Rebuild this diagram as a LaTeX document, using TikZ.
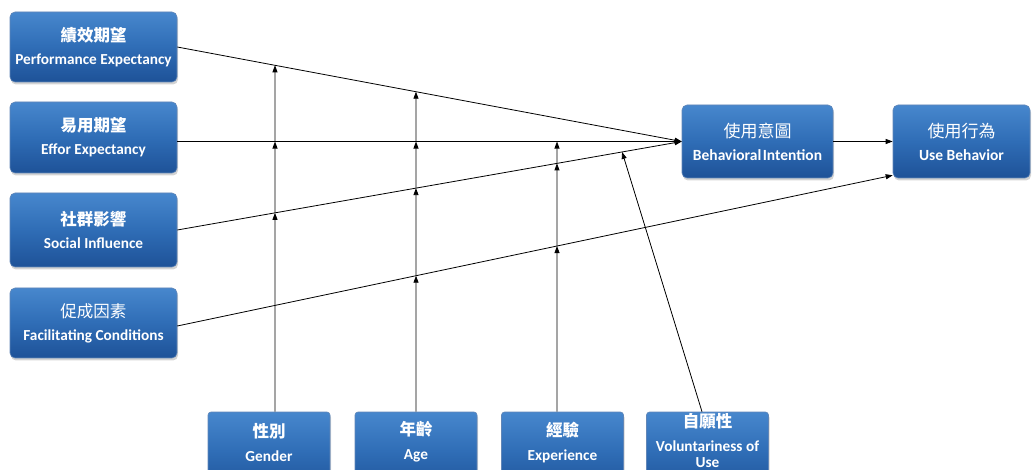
\documentclass[tikz,border=0pt]{standalone}
\usepackage{fontspec}
\setmainfont{Carlito}
\newfontfamily\cjk{Noto Sans CJK TC}
\usetikzlibrary{arrows.meta,shadows,calc}
\definecolor{bA}{HTML}{4787CD}
\definecolor{bB}{HTML}{2F6DB6}
\definecolor{bC}{HTML}{1E5298}
\tikzset{
  box/.style={rounded corners=5pt, top color=bA, bottom color=bC, middle color=bB,
    draw=bC!70!white, line width=0.6pt,
    drop shadow={shadow xshift=1pt, shadow yshift=-2.5pt, opacity=0.35},
    text=white, align=center, inner sep=0pt,
    font=\bfseries\fontsize{15.3}{23}\selectfont},
  lbox/.style={box, minimum width=167pt},
  rbox/.style={box, minimum height=73pt, font=\bfseries\fontsize{15.5}{23}\selectfont},
  bbox/.style={box, rounded corners=3pt, minimum width=122pt, minimum height=80pt},
  btext/.style={text=white, align=center, inner sep=0pt, font=\bfseries\fontsize{15.3}{24}\selectfont},
  conn/.style={line width=0.8pt, draw=black},
  tip/.style={-{Triangle[length=7pt,width=5pt]}},
}
\newcommand{\zhb}[1]{{\cjk\bfseries\fontsize{16.5}{23}\selectfont #1}}
\newcommand{\zhm}[1]{{\cjk\mdseries\fontsize{16.5}{23}\selectfont #1}}
\newcommand{\zhr}[1]{{\cjk\mdseries\fontsize{17}{23}\selectfont #1}}
\begin{document}
\begin{tikzpicture}[x=1pt,y=-1pt]
\useasboundingbox (0,0) rectangle (1034,470);

% left boxes
\node[lbox, minimum height=70pt] (PE) at (93.5,47) {\zhb{績效期望}\\Performance Expectancy};
\node[lbox, minimum height=71pt] (EE) at (93.5,137.5) {\zhb{易用期望}\\Effor Expectancy};
\node[lbox, minimum height=74pt] (SI) at (93.5,230) {\zhb{社群影響}\\Social Influence};
\node[lbox, minimum height=70pt] (FC) at (93.5,323) {\zhm{促成因素}\\Facilitating Conditions};

% right boxes
\node[rbox, minimum width=151pt] (BI) at (757.5,141.5) {\zhr{使用意圖}\\Behavioral\hspace{1.5pt}Intention};
\node[rbox, minimum width=137pt] (UB) at (961.5,141.5) {\zhr{使用行為}\\Use Behavior};

% bottom boxes
\node[bbox] (G) at (269,452) {};
\node[bbox] (A) at (416,452) {};
\node[bbox] (E) at (562.5,452) {};
\node[bbox] (V) at (707.5,452) {};
\node[btext] (Gt) at ($(G.north)+(0,30.5)$) {\zhb{性別}\\Gender};
\node[btext] (At) at ($(A.north)+(0,30.5)$) {\zhb{年齡}\\Age};
\node[btext] (Et) at ($(E.north)+(0,30.5)$) {\zhb{經驗}\\Experience};
\node[btext, font=\bfseries\fontsize{15.3}{16}\selectfont] (Vt) at ($(V.north)+(0,29)$) {\zhb{自願性}\\[8pt]Voluntariness of\\Use};

% main connectors
\coordinate (peS) at (PE.east);
\coordinate (eeS) at (EE.east |- BI.west);
\coordinate (siS) at (SI.east);
\coordinate (fcS) at ($(FC.east)+(0,3)$);
\coordinate (biW) at (BI.west);
\coordinate (ubE) at ($(UB.south west)+(0,-3)$);
\draw[conn,tip] (peS) -- (biW);
\draw[conn,tip] (eeS) -- (biW);
\draw[conn,tip] (siS) -- (biW);
\draw[conn,tip] (fcS) -- (ubE);
\draw[conn,tip] (BI.east) -- (UB.west);

% moderator lines
\coordinate (gB) at ($(G.north)+(6,0)$);
\coordinate (gT) at ($(gB)+(0,-420)$);
\coordinate (aB) at (A.north);
\coordinate (aT) at ($(aB)+(0,-420)$);
\coordinate (eB) at ($(E.north)+(-5.5,0)$);
\coordinate (eT) at ($(eB)+(0,-420)$);
\coordinate (vB) at ($(V.north)+(-5.5,0)$);
\coordinate (vT) at ($(vB)+(-80,-260)$);

\coordinate (g1) at (intersection of gB--gT and siS--biW);
\coordinate (g2) at (intersection of gB--gT and eeS--biW);
\coordinate (g3) at (intersection of gB--gT and peS--biW);
\coordinate (a0) at (intersection of aB--aT and fcS--ubE);
\coordinate (a1) at (intersection of aB--aT and siS--biW);
\coordinate (a2) at (intersection of aB--aT and eeS--biW);
\coordinate (a3) at (intersection of aB--aT and peS--biW);
\coordinate (e0) at (intersection of eB--eT and fcS--ubE);
\coordinate (e1) at (intersection of eB--eT and siS--biW);
\coordinate (e2) at (intersection of eB--eT and eeS--biW);
\coordinate (v1) at (intersection of vB--vT and siS--biW);

\draw[conn,tip] (gB) -- (g1);
\draw[conn,tip] (g1) -- (g2);
\draw[conn,tip] (g2) -- (g3);
\draw[conn,tip] (aB) -- (a0);
\draw[conn,tip] (a0) -- (a1);
\draw[conn,tip] (a1) -- (a2);
\draw[conn,tip] (a2) -- (a3);
\draw[conn,tip] (eB) -- (e0);
\draw[conn,tip] (e0) -- (e1);
\draw[conn,tip] (e1) -- (e2);
\draw[conn,tip] (vB) -- (v1);
\end{tikzpicture}
\end{document}
